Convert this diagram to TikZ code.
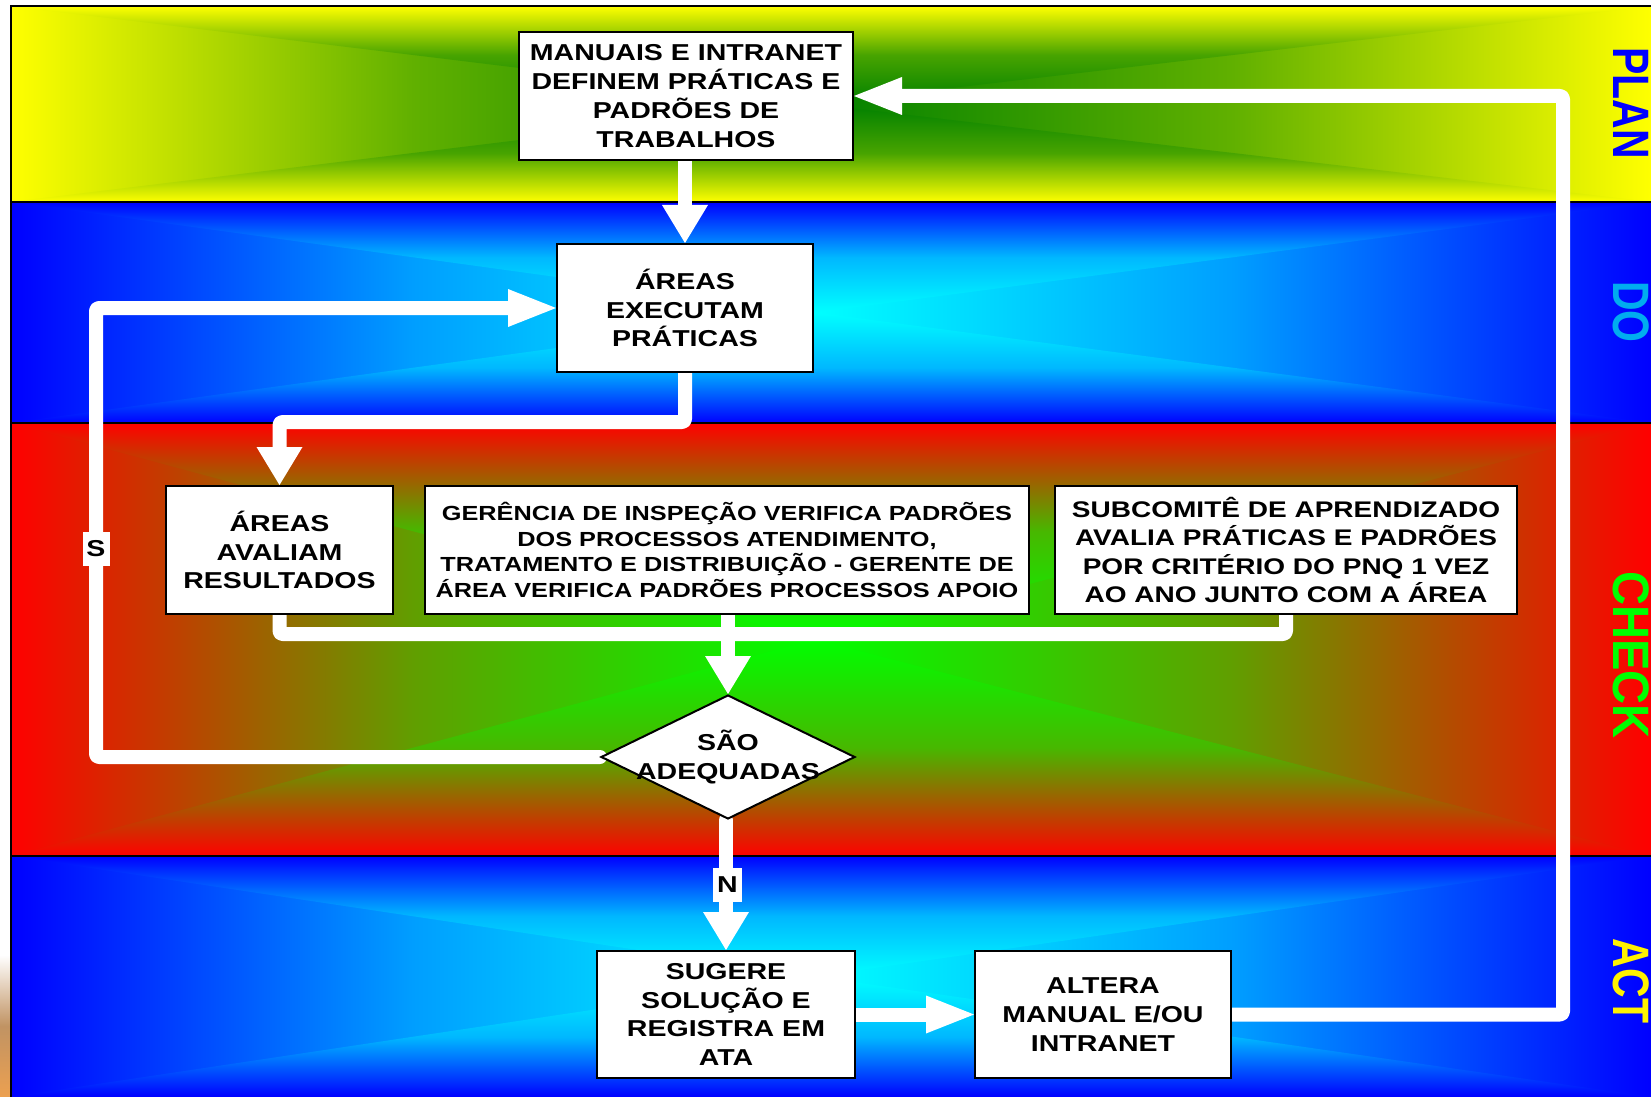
\documentclass[tikz,border=0pt]{standalone}
\usepackage{fontspec}
\usetikzlibrary{arrows.meta,shapes.geometric}
\newfontfamily\boxfont{Liberation Sans}[FakeStretch=1.24]
\newfontfamily\phasefont{Liberation Sans}[FakeStretch=0.8]
\newfontfamily\widephasefont{Liberation Sans}[FakeStretch=0.92]
\definecolor{plangreen}{RGB}{0,128,0}
\definecolor{tan}{RGB}{236,160,80}
\pgfdeclarelayer{bands}
\pgfdeclarelayer{links}
\pgfsetlayers{bands,links,main}

% one horizontal band of the cycle, shaded from its edges towards its centre
% #1 top, #2 bottom, #3 edge colour, #4 centre colour
\newcommand\pdcaband[4]{%
  \pgfmathsetmacro\bandmid{(#1+#2)/2}%
  \shade[left color=#3, right color=#4, middle color=#4!62!#3] (11,#1) rectangle (815,#2);
  \shade[left color=#4, right color=#3, middle color=#4!62!#3] (815,#1) rectangle (1651,#2);
  \shade[top color=#3, bottom color=#4, middle color=#4!72!#3] (11,#1) -- (1651,#1) -- (815,\bandmid) -- cycle;
  \shade[top color=#4, bottom color=#3, middle color=#4!72!#3] (11,#2) -- (1651,#2) -- (815,\bandmid) -- cycle;
}

\tikzset{
  boxsize/.style 2 args={minimum width=#1*0.5pt, minimum height=#2*0.5pt},
  boxtext/.style={font=\boxfont\bfseries\fontsize{11.5pt}{14.4pt}\selectfont},
  stage/.style={draw=black, line width=1pt, fill=white, inner sep=0pt, align=center, boxtext},
  link/.style={draw=white, line width=7pt, rounded corners=1.5pt, line cap=round, line join=round},
  vhead/.style={-{Triangle[width=23pt,length=19pt,line width=0pt]}},
  hhead/.style={-{Triangle[width=19pt,length=24pt,line width=0pt]}},
  tag/.style={fill=white, inner sep=0pt, boxtext, boxsize={#1}{34}},
  phase/.style={rotate=-90, anchor=base, inner sep=0pt,
    font=\phasefont\bfseries\fontsize{25.6pt}{30pt}\selectfont},
}

\begin{document}
\begin{tikzpicture}[x=0.5pt, y=-0.5pt]
\useasboundingbox (0,0) rectangle (1651,1097);

% ---------- background bands ----------
\begin{pgfonlayer}{bands}
  \fill[white] (0,0) rectangle (1651,1097);
  \shade[top color=white, bottom color=tan, middle color=tan!60!gray] (0,955) rectangle (11,1097);
  \pdcaband{6}{202}{yellow}{plangreen}
  \pdcaband{202}{423}{blue}{cyan}
  \pdcaband{423}{856}{red}{green}
  \pdcaband{856}{1097}{blue}{cyan}
  \draw[line width=1pt] (11,202) -- (1651,202);
  \draw[line width=1pt] (11,423) -- (1651,423);
  \draw[line width=1pt] (11,856) -- (1651,856);
  \draw[line width=1.2pt] (11,1097) -- (11,6) -- (1651,6);
\end{pgfonlayer}

% ---------- phase names ----------
\node[phase, text=blue]   (lplan)  at (1613,103) {PLAN};
\node[phase, text=cyan]   (ldo)    at (1613,312) {DO};
\node[phase, text=green, font=\widephasefont\bfseries\fontsize{25.6pt}{30pt}\selectfont]
  (lcheck) at (1613,655) {CHECK};
\node[phase, text=yellow] (lact)   at (1613,981) {ACT};

% ---------- steps ----------
\node[stage, boxsize={334}{128}] (b1) at (686,96)
  {MANUAIS E INTRANET\\DEFINEM PRÁTICAS E\\PADRÕES DE\\TRABALHOS};
\node[stage, boxsize={256}{128}] (b2) at (685,308)
  {ÁREAS\\EXECUTAM\\PRÁTICAS};
\node[stage, boxsize={227}{128}] (b3) at (279.5,550)
  {ÁREAS\\AVALIAM\\RESULTADOS};
\node[stage, boxsize={604}{128}, font=\boxfont\bfseries\fontsize{10.2pt}{12.8pt}\selectfont] (b4) at (727,550)
  {GERÊNCIA DE INSPEÇÃO VERIFICA PADRÕES\\DOS PROCESSOS ATENDIMENTO,\\TRATAMENTO E DISTRIBUIÇÃO - GERENTE DE\\ÁREA VERIFICA PADRÕES PROCESSOS APOIO};
\node[stage, boxsize={462}{128}, font=\boxfont\bfseries\fontsize{11.3pt}{14.2pt}\selectfont] (b5) at (1286,550)
  {SUBCOMITÊ DE APRENDIZADO\\AVALIA PRÁTICAS E PADRÕES\\POR CRITÉRIO DO PNQ 1 VEZ\\AO ANO JUNTO COM A ÁREA};
\node[diamond, draw=black, line width=1pt, fill=white, inner sep=0pt, boxsize={254}{124}] (dia) at (728,757) {};
\node[align=center, inner sep=0pt, boxtext] (dtxt) at (dia.center) {SÃO\\ADEQUADAS};
\node[stage, boxsize={258}{127}] (b6) at (726,1014.5)
  {SUGERE\\SOLUÇÃO E\\REGISTRA EM\\ATA};
\node[stage, boxsize={256}{127}] (b7) at (1103,1014.5)
  {ALTERA\\MANUAL E/OU\\INTRANET};

% ---------- bends of the connectors ----------
\coordinate (k23) at (279.5,422);
\coordinate (k35) at (1286,634);
\coordinate (kS)  at (96,549);
\coordinate (kR)  at (1563,96);

% ---------- connectors ----------
\begin{pgfonlayer}{links}
  \draw[link, vhead] (b2.north |- b1.south) -- (b2.north);
  \draw[link, vhead] (b2.south) |- (k23) -- (b3.north);
  \draw[link] (b3.south) |- (k35) -- (b5.south);
  \draw[link, vhead] (dia.north |- b4.south) -- (dia.north);
  \draw[link, hhead] (dia.west) -| (kS) |- (b2.west);
  \draw[link, vhead] (b6.north |- dia.south) -- (b6.north);
  \draw[link, hhead] (b6.east) -- (b7.west);
  \draw[link, hhead] (b7.east) -| (kR) -- (b1.east);
\end{pgfonlayer}

% ---------- answer tags ----------
\node[tag=27] (sl) at (kS) {S};
\node[tag=29] (nl) at (727.5,885) {N};
\end{tikzpicture}
\end{document}
